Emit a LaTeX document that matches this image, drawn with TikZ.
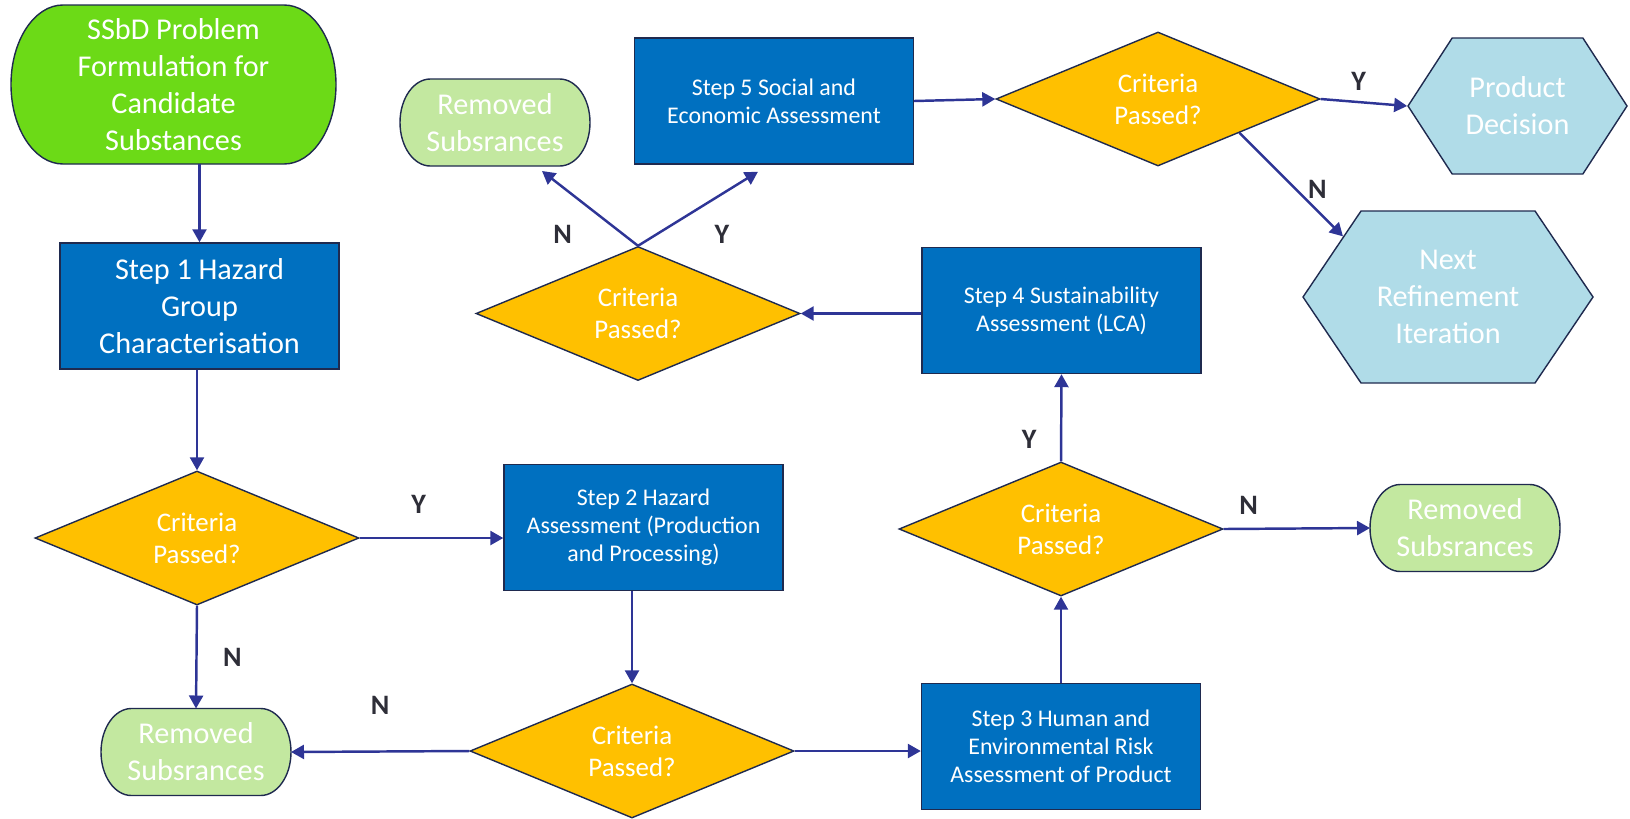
\documentclass[tikz,border=0pt]{standalone}
\usepackage{fontspec}
\setmainfont{Carlito}
\usepackage{tikz}
\usetikzlibrary{arrows.meta,positioning,shapes.geometric,shapes.symbols,calc,backgrounds}
\definecolor{stepblue}{HTML}{0070C0}
\definecolor{gold}{HTML}{FFC000}
\definecolor{startgreen}{HTML}{6CDA17}
\definecolor{remgreen}{HTML}{C3E8A0}
\definecolor{hexblue}{HTML}{B0DCE8}
\definecolor{arrblue}{HTML}{2E3596}
\definecolor{edge}{HTML}{1F2A4F}
\definecolor{lblgray}{HTML}{2E2E38}

\begin{document}
\begin{tikzpicture}[
    big/.style={font=\fontsize{17.2}{21}\selectfont},
    stepbox/.style={draw=edge,line width=0.8pt,fill=stepblue,text=white,
                    minimum width=5.58cm,minimum height=2.52cm,align=center,
                    font=\fontsize{13.6}{16}\selectfont},
    decision/.style={diamond,draw=edge,line width=0.8pt,fill=gold,text=white,
                     minimum width=6.48cm,minimum height=2.68cm,aspect=2.4,
                     inner sep=0pt,align=center,font=\fontsize{15.3}{18.2}\selectfont},
    term/.style={minimum width=3.8cm,minimum height=1.74cm,inner sep=0pt,
                 outer sep=0pt,align=center,text=white,big},
    hexa/.style={signal,signal to=east and west,signal pointer angle=114,
                 draw=edge,line width=0.8pt,fill=hexblue,text=white,
                 inner sep=0pt,align=center,big},
    arr/.style={-{Triangle[length=0.26cm,width=0.28cm]},line width=1.4pt,draw=arrblue},
    lbl/.style={font=\fontsize{16}{19}\selectfont\bfseries,text=lblgray,inner sep=0pt}
  ]
  \useasboundingbox (0,0) rectangle (32.6,-16.36);

  % left column
  \node[term,minimum width=6.5cm,minimum height=3.18cm] (start) at (3.47,-1.69)
    {SSbD Problem\\Formulation for\\Candidate\\Substances};
  \node[stepbox,big] (step1) at (3.99,-6.12) {Step 1 Hazard\\Group\\Characterisation};
  \node[decision] (d1) at (3.94,-10.76) {Criteria\\Passed?};
  \node[term] (rem1) at (3.92,-15.04) {Removed\\Subsrances};

  % middle and right
  \node[stepbox] (step2) at (12.87,-10.55) {Step 2 Hazard\\Assessment (Production\\and Processing)};
  \node[decision] (d2) at (12.64,-15.02) {Criteria\\Passed?};
  \node[stepbox] (step3) at (21.22,-14.93) {Step 3 Human and\\Environmental Risk\\Assessment of Product};
  \node[decision] (d3) at (21.22,-10.58) {Criteria\\Passed?};
  \node[term] (rem3) at (29.30,-10.56) {Removed\\Subsrances};
  \node[stepbox] (step4) at (21.23,-6.21) {Step 4 Sustainability\\Assessment (LCA)};
  \node[decision] (d4) at (12.76,-6.27) {Criteria\\Passed?};
  \node[term] (rem4) at (9.90,-2.45) {Removed\\Subsrances};
  \node[stepbox] (step5) at (15.48,-2.02) {Step 5 Social and\\Economic Assessment};
  \node[decision] (d5) at (23.16,-1.98) {Criteria\\Passed?};
  \node[hexa,minimum width=4.38cm,minimum height=2.72cm] (prod) at (30.35,-2.12)
    {Product\\Decision};
  \node[hexa,minimum width=5.8cm,minimum height=3.44cm,signal pointer angle=112] (next) at (28.96,-5.94)
    {Next\\Refinement\\Iteration};

  % terminator outlines with elliptic ends
  \begin{scope}[on background layer]
    \foreach \nd/\col in {start/startgreen,rem1/remgreen,rem3/remgreen,rem4/remgreen}
      \filldraw[draw=edge,line width=0.8pt,fill=\col]
        let \p1=(\nd.north west),\p2=(\nd.south east) in
        ({\x1+0.16*(\x2-\x1)},\y1) -- ({\x2-0.16*(\x2-\x1)},\y1)
        arc[start angle=90,end angle=-90,x radius={0.16*(\x2-\x1)},y radius={(\y1-\y2)/2}]
        -- ({\x1+0.16*(\x2-\x1)},\y2)
        arc[start angle=270,end angle=90,x radius={0.16*(\x2-\x1)},y radius={(\y1-\y2)/2}]
        -- cycle;
  \end{scope}

  \draw[arr] (step1.north |- start.south) -- (step1.north);
  \draw[arr] (step1.south -| d1.north) -- (d1.north);
  \draw[arr] (d1.east) -- node[lbl,pos=0.41,yshift=0.68cm]{Y} (step2.west |- d1.east);
  \draw[arr] (d1.south) -- node[lbl,pos=0.5,xshift=0.72cm]{N} (rem1.north);
  \draw[arr] (step2.south -| d2.north) -- (d2.north);
  \draw[arr] (d2.west) -- node[lbl,pos=0.5,yshift=0.92cm]{N} (rem1.east);
  \draw[arr] (d2.east) -- (step3.west |- d2.east);
  \draw[arr] (step3.north) -- (d3.south);
  \draw[arr] (d3.east) -- node[lbl,pos=0.17,yshift=0.46cm]{N} (rem3.west);
  \draw[arr] (d3.north) -- node[lbl,pos=0.25,xshift=-0.64cm]{Y} (step4.south);
  \draw[arr] (step4.west |- d4.east) -- (d4.east);
  \draw[arr] (d4.north) -- node[lbl,pos=0.15,xshift=-1.22cm]{N} ([xshift=0.94cm,yshift=-0.1cm]rem4.south);
  \draw[arr] (d4.north) -- node[lbl,pos=0.15,xshift=1.32cm]{Y} ([xshift=-0.32cm,yshift=-0.14cm]step5.south);
  \draw[arr] (step5.east) -- (d5.west);
  \draw[arr] (d5.east) -- node[lbl,pos=0.44,yshift=0.41cm]{Y} (prod.west);
  \draw[arr] (d5.south east) -- node[lbl,pos=0.55,xshift=0.42cm]{N} (next.150);
\end{tikzpicture}
\end{document}
